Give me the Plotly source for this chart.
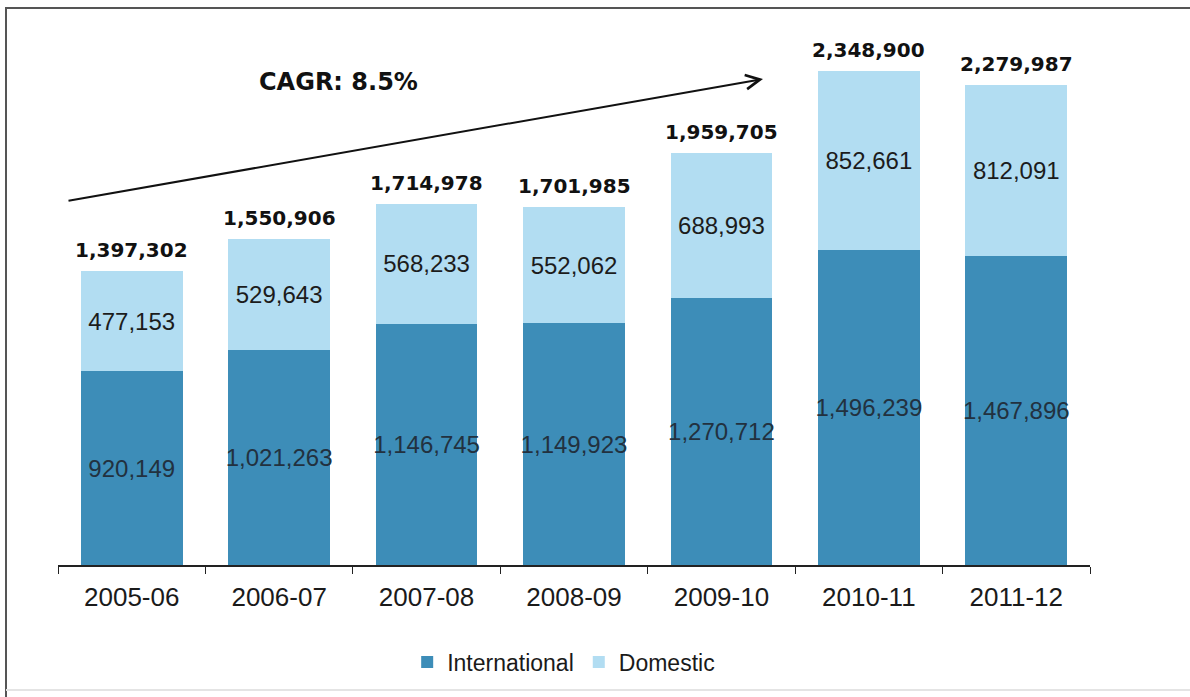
import plotly.graph_objects as go

# Passenger traffic by financial year
years = ["2005-06", "2006-07", "2007-08", "2008-09", "2009-10", "2010-11", "2011-12"]
international = [920149, 1021263, 1146745, 1149923, 1270712, 1496239, 1467896]
domestic = [477153, 529643, 568233, 552062, 688993, 852661, 812091]
totals = [1397302, 1550906, 1714978, 1701985, 1959705, 2348900, 2279987]
cagr_label = "CAGR: 8.5%"

INTL_COLOR = "#3d8db8"
DOM_COLOR = "#b2ddf2"

fig = go.Figure()

fig.add_trace(go.Bar(
    name="International",
    x=years,
    y=international,
    marker=dict(color=INTL_COLOR, line=dict(width=0)),
    text=[f"{v:,}" for v in international],
    textposition="inside",
    insidetextanchor="middle",
    textangle=0,
    constraintext="none",
    textfont=dict(family="Liberation Sans, Arial", size=24, color="#22313f"),
))

fig.add_trace(go.Bar(
    name="Domestic",
    x=years,
    y=domestic,
    marker=dict(color=DOM_COLOR, line=dict(width=0)),
    text=[f"{v:,}" for v in domestic],
    textposition="inside",
    insidetextanchor="middle",
    textangle=0,
    constraintext="none",
    textfont=dict(family="Liberation Sans, Arial", size=24, color="#1c1c1c"),
))

# Bold totals above each stack
for yr, tot in zip(years, totals):
    fig.add_annotation(
        x=yr, y=tot, xref="x", yref="y",
        text=f"<b>{tot:,}</b>",
        showarrow=False,
        yanchor="bottom", yshift=7,
        font=dict(family="DejaVu Sans", size=20, color="#111111"),
    )

# Growth arrow with CAGR label
fig.add_annotation(
    x=(763 - 58) / 1032, y=(565 - 79) / 547, xref="paper", yref="paper",
    ax=-696, ay=122, axref="pixel", ayref="pixel",
    showarrow=True, arrowhead=5, arrowsize=1.4, arrowwidth=2,
    arrowcolor="#111111", text="",
)
fig.add_annotation(
    x=(338 - 58) / 1032, y=(565 - 82) / 547, xref="paper", yref="paper",
    text="<b>" + cagr_label + "</b>",
    showarrow=False, xanchor="center", yanchor="middle",
    font=dict(family="DejaVu Sans", size=24, color="#111111"),
)

# Frame lines around the chart
fig.add_shape(type="line", xref="paper", yref="paper",
              x0=(5 - 58) / 1032, x1=(1190 - 58) / 1032,
              y0=(565 - 8) / 547, y1=(565 - 8) / 547,
              line=dict(color="#555555", width=2))
fig.add_shape(type="line", xref="paper", yref="paper",
              x0=(6 - 58) / 1032, x1=(6 - 58) / 1032,
              y0=(565 - 8) / 547, y1=(565 - 697) / 547,
              line=dict(color="#555555", width=2))
fig.add_shape(type="line", xref="paper", yref="paper",
              x0=(6 - 58) / 1032, x1=(1190 - 58) / 1032,
              y0=(565 - 690) / 547, y1=(565 - 690) / 547,
              line=dict(color="#e4e4e4", width=2))

fig.update_layout(
    barmode="stack",
    bargap=0.31,
    width=1190,
    height=697,
    margin=dict(l=58, r=100, t=18, b=132),
    paper_bgcolor="white",
    plot_bgcolor="white",
    font=dict(family="Liberation Sans, Arial", color="#1a1a1a"),
    legend=dict(
        orientation="h",
        traceorder="normal",
        x=0.49, xanchor="center",
        y=(565 - 662) / 547, yanchor="middle",
        font=dict(family="Liberation Sans, Arial", size=23, color="#1a1a1a"),
        itemwidth=30,
        bgcolor="rgba(0,0,0,0)",
    ),
    xaxis=dict(
        type="category",
        showline=True, linecolor="#222222", linewidth=1.5,
        ticks="outside", tickson="boundaries", ticklen=7, tickcolor="#222222",
        tickfont=dict(family="Liberation Sans, Arial", size=26, color="#1a1a1a"),
        ticklabelstandoff=8,
        showgrid=False,
    ),
    yaxis=dict(
        range=[0, 2.6e6],
        visible=False,
        showgrid=False,
        zeroline=False,
    ),
)

fig.write_html("out.html")
